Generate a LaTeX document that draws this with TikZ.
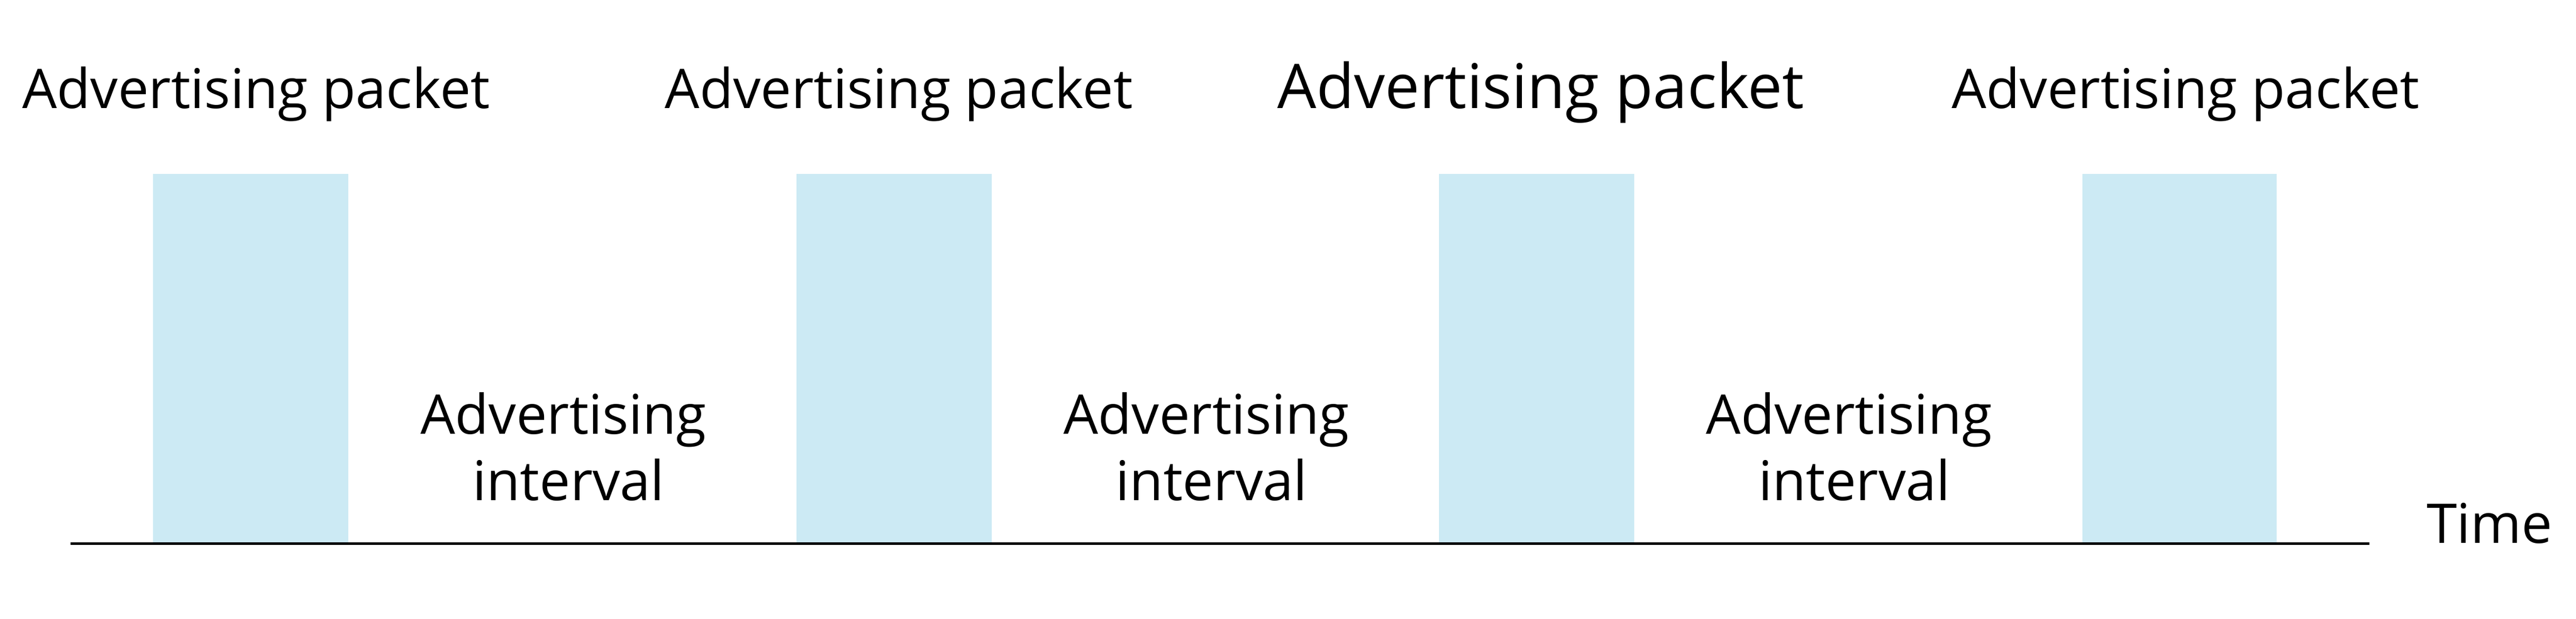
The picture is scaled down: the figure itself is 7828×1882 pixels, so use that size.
\documentclass[tikz,border=0pt]{standalone}
\usepackage{fontspec}
\setmainfont{Open Sans}
\definecolor{pktblue}{RGB}{204,234,244}
\begin{document}
\begin{tikzpicture}[x=0.1pt,y=-0.1pt,
  pkt/.style={fill=pktblue,draw=none},
  lbl/.style={inner sep=0pt,font=\fontsize{16.65pt}{20pt}\selectfont},
  biglbl/.style={inner sep=0pt,font=\fontsize{18.75pt}{22pt}\selectfont},
  axis/.style={draw=black,line width=0.8pt}]
\useasboundingbox (0,0) rectangle (7828,1882);
% packets
\path[pkt] (465,529) rectangle (1058,1652);
\path[pkt] (2420,529) rectangle (3013,1652);
\path[pkt] (4373,529) rectangle (4966,1652);
\path[pkt] (6328,529) rectangle (6918,1652);
% time axis
\coordinate (t0) at (214,1654);
\coordinate (t1) at (7200,1654);
\draw[axis] (t0) -- (t1);
% packet labels
\node[lbl,anchor=base west] (p1) at (66,329) {Advertising packet};
\node[lbl,anchor=base west] (p2) at (2019,329) {Advertising packet};
\node[biglbl,anchor=base west] (p3) at (3880,329) {Advertising packet};
\node[lbl,anchor=base west] (p4) at (5929,329) {Advertising packet};
% interval labels
\node[lbl,anchor=base] (ia1) at (1712,1321) {Advertising};
\node[lbl,anchor=base] (ib1) at (1728,1522) {interval};
\node[lbl,anchor=base] (ia2) at (3666,1321) {Advertising};
\node[lbl,anchor=base] (ib2) at (3682,1522) {interval};
\node[lbl,anchor=base] (ia3) at (5619,1321) {Advertising};
\node[lbl,anchor=base] (ib3) at (5635,1522) {interval};
% time label
\node[lbl,anchor=base west] (time) at (7372,1652) {Time};
\end{tikzpicture}
\end{document}
